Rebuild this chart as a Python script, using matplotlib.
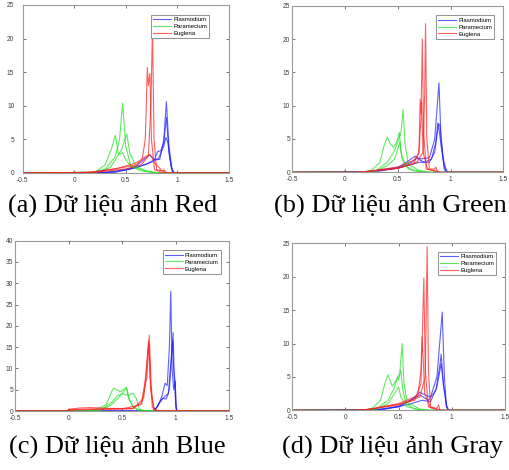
import matplotlib
matplotlib.use("Agg")
import matplotlib.pyplot as plt

# density curves, (x, y) knots per curve
# panel (a) Red channel
RED_PLAS = [
    [(0.3, 0.1), (0.5, 0.5), (0.6, 1.0), (0.7, 2.3), (0.73, 2.7), (0.78, 2.0), (0.83, 2.0), (0.87, 5.0), (0.895, 10.6), (0.92, 4.0), (0.95, 0.5), (0.97, 0)],
    [(0.35, 0.1), (0.55, 0.6), (0.7, 1.3), (0.78, 2.0), (0.81, 3.2), (0.84, 3.3), (0.87, 4.5), (0.895, 8.3), (0.92, 3.0), (0.95, 0.3), (0.97, 0)],
    [(0.4, 0.1), (0.6, 0.8), (0.75, 1.6), (0.82, 2.2), (0.87, 4.0), (0.89, 5.3), (0.91, 4.5), (0.94, 1.0), (0.97, 0)],
]
RED_PARA = [
    [(-0.02, 0), (0.0, 0.2), (0.02, 0), (0.2, 0.1), (0.3, 1.2), (0.36, 3.5), (0.40, 5.6), (0.43, 2.8), (0.47, 3.0), (0.5, 2.0), (0.55, 1.0), (0.7, 0.3), (0.8, 0)],
    [(0.2, 0.1), (0.3, 0.5), (0.40, 2.5), (0.44, 5.0), (0.47, 10.4), (0.50, 4.0), (0.55, 1.0), (0.65, 0.3), (0.8, 0)],
    [(0.2, 0.1), (0.35, 0.8), (0.42, 2.5), (0.46, 3.5), (0.51, 5.8), (0.54, 3.0), (0.6, 1.0), (0.7, 0.3), (0.85, 0)],
]
RED_EUG = [
    [(0.1, 0), (0.3, 0.4), (0.5, 0.9), (0.6, 1.2), (0.66, 2.0), (0.69, 5.0), (0.71, 15.7), (0.72, 13.0), (0.735, 14.8), (0.75, 5.0), (0.78, 0.5), (0.85, 0.1), (0.9, 0)],
    [(0.2, 0.1), (0.5, 0.6), (0.65, 1.2), (0.72, 2.5), (0.745, 10.0), (0.76, 22.0), (0.775, 5.0), (0.80, 0.5), (0.86, 0.3), (0.875, 0.5), (0.89, 0)],
    [(0.15, 0.1), (0.4, 0.6), (0.6, 1.5), (0.7, 2.5), (0.74, 2.7), (0.78, 1.5), (0.85, 0.4), (0.9, 0)],
]

# panel (b) Green channel
GREEN_PLAS = [
    [(-0.02, 0), (0.0, 0.2), (0.02, 0), (0.2, 0.1), (0.5, 0.7), (0.6, 1.7), (0.66, 2.4), (0.72, 2.0), (0.8, 2.2), (0.85, 5.0), (0.89, 13.4), (0.91, 5.0), (0.94, 0.5), (0.96, 0)],
    [(0.2, 0.1), (0.5, 0.6), (0.63, 1.5), (0.68, 2.1), (0.75, 1.5), (0.82, 2.0), (0.86, 4.5), (0.88, 7.4), (0.9, 7.0), (0.93, 2.0), (0.96, 0.3), (0.98, 0)],
    [(0.3, 0.1), (0.55, 0.8), (0.7, 1.5), (0.8, 1.5), (0.85, 3.0), (0.885, 7.2), (0.91, 4.0), (0.94, 0.8), (0.97, 0)],
]
GREEN_PARA = [
    [(0.15, 0), (0.25, 0.3), (0.33, 1.5), (0.37, 4.0), (0.40, 5.3), (0.43, 4.2), (0.46, 3.8), (0.49, 4.5), (0.515, 6.0), (0.53, 3.0), (0.57, 1.0), (0.65, 0.2), (0.75, 0)],
    [(0.2, 0), (0.3, 0.3), (0.4, 1.5), (0.46, 3.0), (0.5, 4.5), (0.53, 6.0), (0.55, 9.4), (0.57, 4.0), (0.6, 1.2), (0.7, 0.3), (0.8, 0)],
    [(0.2, 0), (0.3, 0.2), (0.4, 1.0), (0.47, 2.0), (0.52, 4.5), (0.54, 2.0), (0.6, 0.5), (0.7, 0.2), (0.8, 0)],
]
GREEN_EUG = [
    [(0.1, 0), (0.2, 0.1), (0.5, 0.6), (0.65, 1.3), (0.7, 3.0), (0.72, 8.0), (0.732, 20.0), (0.745, 6.0), (0.77, 0.5), (0.85, 0.2), (0.9, 0)],
    [(0.1, 0), (0.2, 0.1), (0.5, 0.6), (0.68, 1.5), (0.74, 3.0), (0.755, 12.0), (0.763, 22.3), (0.775, 5.0), (0.8, 0.5), (0.85, 0.5), (0.86, 0.8), (0.88, 0)],
    [(0.1, 0), (0.2, 0.1), (0.5, 0.8), (0.65, 1.8), (0.7, 2.8), (0.712, 11.0), (0.72, 8.8), (0.725, 10.5), (0.74, 3.0), (0.78, 0.5), (0.86, 0.2), (0.9, 0)],
]

# panel (c) Blue channel
BLUE_PLAS = [
    [(0.78, 0), (0.83, 1.0), (0.87, 3.5), (0.9, 6.5), (0.92, 6.0), (0.94, 15.0), (0.953, 28.1), (0.965, 10.0), (0.98, 5.0), (0.995, 7.0), (1.0, 2.0), (1.01, 0)],
    [(0.8, 0), (0.85, 2.0), (0.88, 3.0), (0.91, 2.8), (0.94, 5.0), (0.975, 18.4), (0.985, 8.0), (1.0, 1.0), (1.01, 0)],
    [(0.8, 0), (0.86, 2.5), (0.9, 3.5), (0.93, 4.0), (0.97, 16.4), (0.98, 10.0), (0.995, 6.5), (1.005, 0)],
]
BLUE_PARA = [
    [(0.15, 0), (0.25, 0.3), (0.35, 1.5), (0.4, 4.5), (0.42, 5.4), (0.45, 5.0), (0.48, 4.5), (0.51, 5.0), (0.54, 5.6), (0.56, 3.0), (0.6, 1.0), (0.65, 0.3), (0.75, 0)],
    [(0.2, 0), (0.3, 0.3), (0.4, 2.0), (0.45, 3.5), (0.5, 4.1), (0.53, 3.8), (0.57, 3.8), (0.6, 4.2), (0.63, 3.0), (0.66, 0.5), (0.7, 0)],
    [(0.2, 0), (0.3, 0.2), (0.4, 1.5), (0.46, 3.0), (0.5, 4.2), (0.54, 5.3), (0.56, 3.0), (0.6, 1.0), (0.65, 0.2), (0.75, 0)],
]
BLUE_EUG = [
    [(-0.02, 0), (0.0, 0.4), (0.1, 0.7), (0.2, 0.8), (0.4, 0.6), (0.6, 0.6), (0.68, 2.0), (0.72, 8.0), (0.745, 16.5), (0.76, 8.0), (0.78, 1.0), (0.82, 0.2), (0.86, 0)],
    [(-0.02, 0), (0.0, 0.3), (0.2, 0.5), (0.5, 0.5), (0.68, 1.5), (0.73, 8.0), (0.752, 17.8), (0.77, 6.0), (0.79, 0.5), (0.83, 0)],
    [(-0.02, 0), (0.0, 0.2), (0.3, 0.4), (0.6, 0.5), (0.7, 3.0), (0.74, 14.0), (0.75, 15.5), (0.765, 5.0), (0.8, 0.3), (0.84, 0)],
]

# panel (d) Gray
GRAY_PLAS = [
    [(0.3, 0.1), (0.5, 0.6), (0.62, 1.6), (0.7, 2.7), (0.75, 2.3), (0.8, 2.0), (0.86, 5.0), (0.91, 14.7), (0.93, 5.0), (0.95, 0.5), (0.97, 0)],
    [(0.3, 0.1), (0.5, 0.5), (0.65, 1.8), (0.7, 2.3), (0.78, 1.5), (0.85, 3.0), (0.89, 7.0), (0.9, 8.4), (0.92, 4.0), (0.95, 0.5), (0.97, 0)],
    [(0.35, 0.1), (0.6, 0.9), (0.72, 1.5), (0.8, 1.3), (0.86, 3.5), (0.9, 7.0), (0.92, 4.0), (0.95, 0.8), (0.97, 0)],
]
GRAY_PARA = [
    [(0.15, 0), (0.25, 0.3), (0.33, 1.5), (0.37, 4.0), (0.40, 5.3), (0.42, 4.5), (0.44, 3.6), (0.47, 4.3), (0.49, 5.0), (0.5, 4.5), (0.52, 6.0), (0.54, 3.0), (0.57, 1.0), (0.65, 0.2), (0.75, 0)],
    [(0.2, 0), (0.3, 0.3), (0.4, 1.5), (0.45, 3.0), (0.49, 4.9), (0.51, 5.5), (0.533, 10.0), (0.55, 4.0), (0.58, 1.2), (0.7, 0.2), (0.8, 0)],
    [(0.2, 0), (0.3, 0.2), (0.4, 1.0), (0.46, 2.5), (0.5, 3.5), (0.52, 2.0), (0.58, 0.5), (0.7, 0.1), (0.8, 0)],
]
GRAY_EUG = [
    [(0.1, 0), (0.2, 0.1), (0.5, 0.9), (0.65, 1.5), (0.71, 4.0), (0.737, 19.8), (0.75, 6.0), (0.78, 0.5), (0.85, 0.2), (0.9, 0)],
    [(0.1, 0), (0.2, 0.1), (0.5, 0.8), (0.7, 2.0), (0.75, 5.0), (0.768, 24.5), (0.78, 6.0), (0.8, 0.5), (0.86, 0.3), (0.875, 0.8), (0.89, 0)],
    [(0.1, 0), (0.2, 0.1), (0.5, 1.0), (0.68, 2.2), (0.71, 6.0), (0.72, 11.0), (0.73, 8.0), (0.745, 2.5), (0.8, 0.4), (0.86, 0.1), (0.9, 0)],
]

CLASSES = ["Plasmodium", "Paramecium", "Euglena"]
COLORS = ["#1a1aff", "#1ee01e", "#ff1a1a"]
X_TICKS = [-0.5, 0, 0.5, 1, 1.5]
Y_MAX = [25, 25, 40, 25]
CAPTIONS = ["(a) Dữ liệu ảnh Red", "(b) Dữ liệu ảnh Green",
            "(c) Dữ liệu ảnh Blue", "(d) Dữ liệu ảnh Gray"]

panels = [
    (RED_PLAS, RED_PARA, RED_EUG),
    (GREEN_PLAS, GREEN_PARA, GREEN_EUG),
    (BLUE_PLAS, BLUE_PARA, BLUE_EUG),
    (GRAY_PLAS, GRAY_PARA, GRAY_EUG),
]

# layout in pixels (left, top, right, bottom) of each axes box
boxes = [(22.7, 5, 228.7, 173), (292.3, 5.7, 503.3, 172.3),
         (15.3, 240.7, 229.3, 411), (292.3, 243.3, 505, 410.3)]
ypad = [6, 1.5, 1.5, 1.5]
legend_anchor = [(0.92, 0.96), (0.972, 0.96), (0.975, 0.961), (0.973, 0.966)]
caption_pos = [(113, 206), (390, 206), (117, 447), (392, 447)]

W, H = 509, 470
fig = plt.figure(figsize=(W / 100, H / 100), dpi=100)

for i, groups in enumerate(panels):
    l, t, r, b = boxes[i]
    ax = fig.add_axes([l / W, 1 - b / H, (r - l) / W, (b - t) / H])
    for cls, curves, col in zip(CLASSES, groups, COLORS):
        for k, c in enumerate(curves):
            xs = [-0.5] + [p[0] for p in c] + [1.5]
            ys = [0] + [p[1] for p in c] + [0]
            ax.plot(xs, ys, color=col, lw=0.8, alpha=0.7,
                    label=cls if k == 0 else None)
    ax.set_xlim(-0.5, 1.5)
    ax.set_ylim(0, Y_MAX[i])
    ax.set_xticks(X_TICKS)
    ax.set_xticklabels(["-0.5", "0", "0.5", "1", "1.5"])
    ax.set_yticks(range(0, Y_MAX[i] + 1, 5))
    ax.tick_params(direction="in", length=2, width=0.5, top=True, right=True,
                   labelsize=4.8, colors="#404040")
    ax.tick_params(axis="x", pad=3)
    ax.tick_params(axis="y", pad=ypad[i])
    for s in ax.spines.values():
        s.set_color("#9a9a9a")
        s.set_linewidth(0.8)
    for lab in ax.get_xticklabels() + ax.get_yticklabels():
        lab.set_fontfamily("Liberation Sans")
    leg = ax.legend(loc="upper right", bbox_to_anchor=legend_anchor[i],
                    prop={"family": "Liberation Sans", "size": 4.3},
                    handlelength=3.0, handletextpad=0.4, labelspacing=0.3,
                    borderpad=0.35, fancybox=False, framealpha=1)
    leg.get_frame().set_edgecolor("#808080")
    leg.get_frame().set_linewidth(0.6)

for txt, (cx, cy) in zip(CAPTIONS, caption_pos):
    fig.text(cx / W, 1 - cy / H, txt, ha="center", va="center",
             family="Liberation Serif", fontsize=19)

fig.savefig("out.png", dpi=100)
